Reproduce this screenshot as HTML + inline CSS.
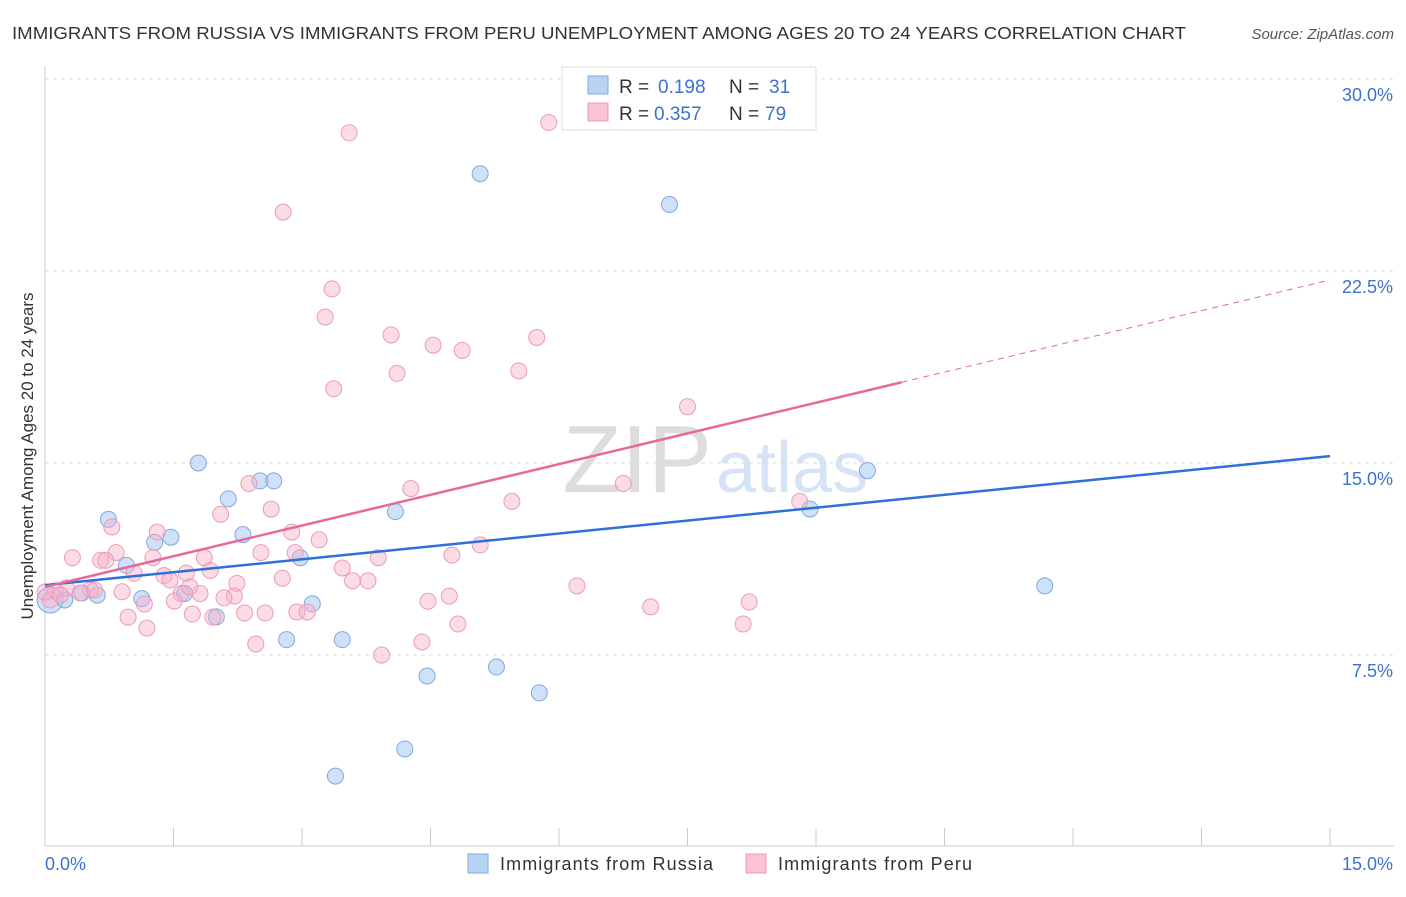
<!DOCTYPE html>
<html><head><meta charset="utf-8"><style>
body{margin:0;background:#fff;font-family:"Liberation Sans",sans-serif;}
svg text{font-family:"Liberation Sans",sans-serif;}
</style></head><body>
<svg id="c" width="1406" height="892" xmlns="http://www.w3.org/2000/svg">
<text x="12" y="39" font-size="17.5" fill="#333" textLength="1174" lengthAdjust="spacingAndGlyphs">IMMIGRANTS FROM RUSSIA VS IMMIGRANTS FROM PERU UNEMPLOYMENT AMONG AGES 20 TO 24 YEARS CORRELATION CHART</text>
<text x="1394" y="39" font-size="15" fill="#555" font-style="italic" text-anchor="end">Source: ZipAtlas.com</text>
<text x="0" y="0" transform="translate(33,456) rotate(-90)" font-size="17" fill="#333" text-anchor="middle">Unemployment Among Ages 20 to 24 years</text>
<text x="712" y="492" font-size="96" fill="#ddd" text-anchor="end" font-family="Liberation Serif">ZIP</text>
<text x="716" y="492" font-size="72" fill="#d5e3f5">atlas</text>
<g id="grid"></g><g id="axes"></g><g id="marks"></g>
<g>
<rect x="562" y="67" width="254" height="63" fill="#fff" stroke="#ddd"/>
<rect x="588" y="76" width="20" height="18" fill="#b9d3f5" stroke="#7fa9e0"/>
<rect x="588" y="103" width="20" height="18" fill="#f9c3d3" stroke="#ec9cb5"/>
<text x="619" y="93" font-size="19" fill="#333">R =</text>
<text x="658" y="93" font-size="19" fill="#3b73cc">0.198</text>
<text x="729" y="93" font-size="19" fill="#333">N =</text>
<text x="769" y="93" font-size="19" fill="#3b73cc">31</text>
<text x="619" y="120" font-size="19" fill="#333">R =</text>
<text x="654" y="120" font-size="19" fill="#3b73cc">0.357</text>
<text x="729" y="120" font-size="19" fill="#333">N =</text>
<text x="765" y="120" font-size="19" fill="#3b73cc">79</text>
</g>
<g>
<rect x="468" y="854" width="20" height="19" fill="#b9d3f5" stroke="#7fa9e0"/>
<text x="500" y="870" font-size="18" fill="#333" textLength="213">Immigrants from Russia</text>
<rect x="746" y="854" width="20" height="19" fill="#f9c3d3" stroke="#ec9cb5"/>
<text x="778" y="870" font-size="18" fill="#333" textLength="194">Immigrants from Peru</text>
</g>
</svg>
<script>
const yTicks=[7.5,15,22.5,30];
const yTickLabels=["7.5%","15.0%","22.5%","30.0%"];
const xTicks=[0,1.5,3,4.5,6,7.5,9,10.5,12,13.5,15];
const russiaX=[5.08,7.29,1.79,9.6,2.51,2.67,2.14,4.09,8.93,0.74,1.47,1.28,2.31,2.98,0.95,11.67,1.13,1.63,3.12,2.0,2.82,3.47,4.46,5.27,5.77,4.2,3.39,0.06,0.23,0.61,0.43];
const russiaY=[26.3,25.1,15.0,14.7,14.3,14.3,13.6,13.1,13.2,12.8,12.1,11.9,12.2,11.3,11.0,10.2,9.7,9.9,9.5,8.99,8.1,8.1,6.68,7.03,6.02,3.83,2.77,9.65,9.65,9.84,9.92];
const peruX=[5.88,3.55,2.78,3.35,3.27,4.04,5.74,4.53,4.87,4.11,5.53,3.37,7.5,6.75,4.27,2.38,5.45,8.81,2.64,2.05,0.78,1.31,2.88,3.2,0.32,0.83,0.65,1.26,2.52,2.92,4.75,5.08,3.89,1.86,0.71,1.04,1.65,1.93,3.47,1.39,2.24,2.77,3.59,3.77,6.21,0.9,1.59,1.81,2.21,4.72,4.47,8.22,7.07,1.16,1.51,2.09,2.57,2.94,3.06,2.33,1.72,0.97,1.96,1.19,4.82,8.15,2.46,4.4,3.93,0.25,0.12,0.53,0.06,0.41,0.58,0.18,0.0,1.46,1.69];
const peruY=[28.3,27.9,24.8,21.8,20.7,20.0,19.9,19.6,19.4,18.5,18.6,17.9,17.2,14.2,14.0,14.2,13.5,13.5,13.2,13.0,12.5,12.3,12.3,12.0,11.3,11.5,11.2,11.3,11.5,11.5,11.4,11.8,11.3,11.3,11.2,10.7,10.7,10.8,10.9,10.6,10.3,10.5,10.4,10.4,10.2,9.97,9.9,9.9,9.8,9.8,9.6,9.57,9.38,9.49,9.61,9.73,9.14,9.18,9.18,9.14,9.1,8.98,8.98,8.55,8.71,8.71,7.93,8.01,7.5,10.12,10.0,10.04,9.65,9.92,10.04,9.84,9.96,10.43,10.16];
const russiaFit=[10.23,15.27];
const peruFit=[10.16,22.15];
const peruSolidEnd=10.0;
const NS="http://www.w3.org/2000/svg";
const X=v=>45+v*(1330-45)/15;
const Y=v=>847-v*25.6;
function mk(t,a,p){const e=document.createElementNS(NS,t);for(const k in a)e.setAttribute(k,a[k]);p.appendChild(e);return e;}
const grid=document.getElementById('grid'),axes=document.getElementById('axes'),marks=document.getElementById('marks');
yTicks.forEach((v,i)=>{
 const g=mk('line',{x1:45,x2:1394,y1:Y(v),y2:Y(v),stroke:'#ddd','stroke-dasharray':'4,4'},grid);
 
 
 const t=mk('text',{x:1393,y:Y(v)+22,'font-size':18,fill:'#3b73cc','text-anchor':'end'},axes);
 t.textContent=yTickLabels[i];
 
 
});
mk('line',{x1:45,x2:45,y1:66,y2:846,stroke:'#ccc'},axes);
mk('line',{x1:45,x2:1394,y1:846,y2:846,stroke:'#ccc'},axes);
xTicks.forEach(v=>{const l=mk('line',{x1:X(v),x2:X(v),y1:828,y2:846,stroke:'#ccc'},axes);
 
 });
let t0=mk('text',{x:45,y:870,'font-size':18,fill:'#3b73cc'},axes);t0.textContent="0.0%";


let t1=mk('text',{x:1393,y:870,'font-size':18,fill:'#3b73cc','text-anchor':'end'},axes);t1.textContent="15.0%";


russiaX.forEach((x,i)=>{const c=mk('circle',{cx:X(x),cy:Y(russiaY[i]),r:i==27?13:8,fill:'rgba(160,196,242,0.5)',stroke:'#7fa9e0','stroke-width':1},marks);
 
 });
peruX.forEach((x,i)=>{const c=mk('circle',{cx:X(x),cy:Y(peruY[i]),r:8,fill:'rgba(246,176,200,0.45)',stroke:'#ec9cb5','stroke-width':1},marks);
 
 });
const rl=mk('line',{x1:X(0),y1:Y(russiaFit[0]),x2:X(15),y2:Y(russiaFit[1]),stroke:'#2f6fd6','stroke-width':2.5},marks);


const pm=peruFit[0]+(peruFit[1]-peruFit[0])*peruSolidEnd/15;
const pl=mk('line',{x1:X(0),y1:Y(peruFit[0]),x2:X(peruSolidEnd),y2:Y(pm),stroke:'#e8689a','stroke-width':2.5},marks);


const pd=mk('line',{x1:X(peruSolidEnd),y1:Y(pm),x2:X(15),y2:Y(peruFit[1]),stroke:'#e8689a','stroke-width':1,'stroke-dasharray':'6,5'},marks);


</script>
</body></html>
